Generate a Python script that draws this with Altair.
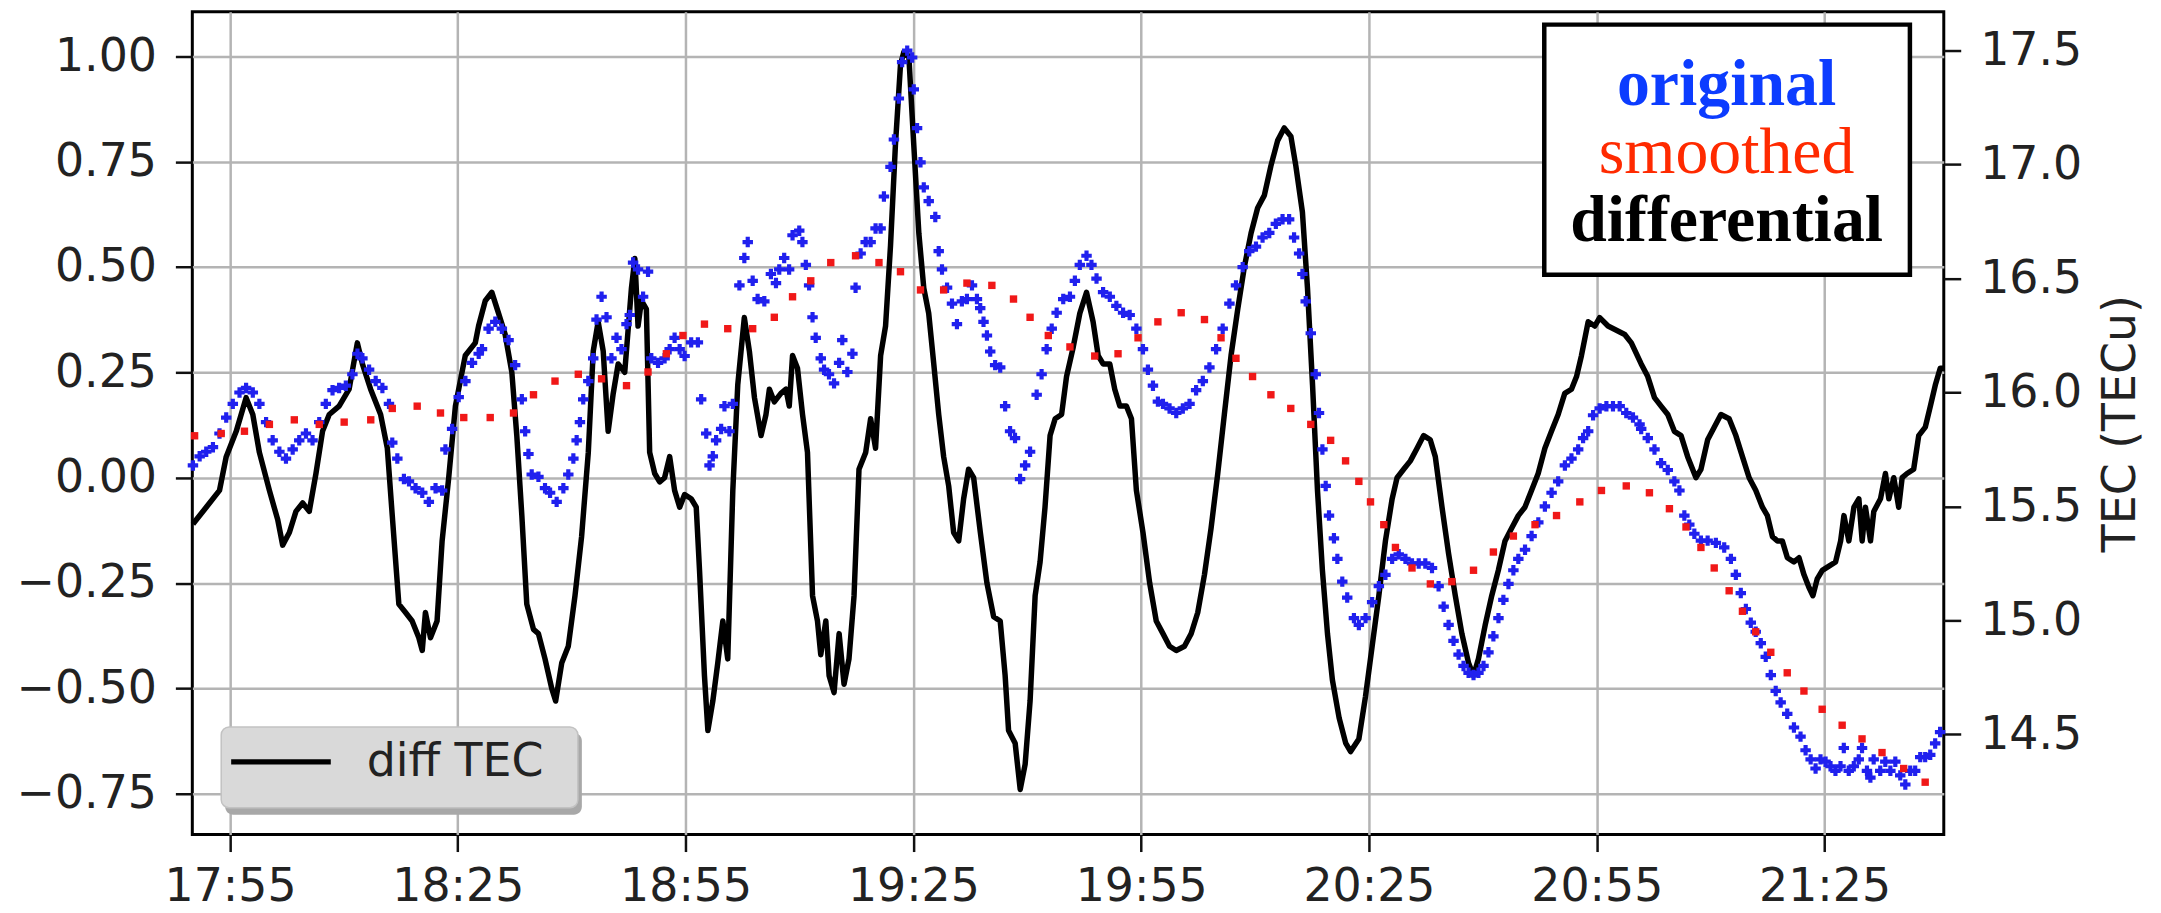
import altair as alt
import pandas as pd

# ---- data (minutes after 17:50) ----
diff_min = [0.12, 1.87, 3.62, 4.50, 5.81, 7.12, 8.00, 8.87, 10.19, 11.28, 11.93, 12.81, 13.68, 14.56,
            15.43, 16.31, 17.18, 18.06, 19.37, 20.68, 21.77, 22.43, 23.52, 24.84, 25.71, 26.37, 27.24,
            28.12, 28.99, 29.87, 30.31, 30.74, 31.40, 32.27, 32.93, 33.80, 34.68, 35.99, 37.30, 37.74,
            38.62, 39.49, 40.36, 41.24, 42.11, 42.77, 43.43, 44.08, 44.96, 45.62, 46.49, 47.37, 47.89,
            48.68, 49.55, 50.43, 51.30, 52.18, 52.83, 53.49, 54.15, 54.80, 55.46, 56.12, 56.99, 57.87,
            58.31, 58.74, 59.18, 59.83, 60.27, 60.93, 61.58, 62.24, 62.90, 63.55, 64.21, 64.87, 65.74,
            66.40, 66.83, 67.49, 67.93, 68.58, 69.24, 69.90, 70.55, 71.21, 71.87, 72.74, 73.40, 74.06,
            74.93, 75.59, 76.03, 76.68, 77.55, 78.21, 78.65, 79.08, 79.74, 80.40, 81.05, 81.71, 82.36,
            82.80, 83.46, 83.90, 84.55, 85.21, 85.87, 86.52, 87.18, 87.83, 88.71, 89.37, 90.02, 90.68,
            91.33, 91.99, 92.64, 93.30, 93.74, 94.40, 95.05, 95.71, 96.37, 97.02, 97.68, 98.34, 98.99,
            99.65, 100.30, 100.96, 101.62, 102.27, 102.93, 103.81, 104.68, 105.56, 106.43, 107.09,
            107.53, 108.40, 109.06, 109.72, 110.37, 111.03, 111.69, 112.34, 113.00, 113.66, 114.51,
            115.17, 116.05, 116.92, 117.80, 118.67, 119.33, 119.98, 120.86, 121.52, 122.18, 123.05,
            123.71, 124.36, 125.24, 126.11, 126.98, 127.86, 128.73, 129.61, 130.70, 131.58, 132.45,
            133.33, 134.20, 135.08, 135.95, 136.83, 137.71, 138.58, 139.46, 140.33, 141.21, 142.08,
            142.96, 143.84, 144.71, 145.37, 146.24, 146.90, 147.56, 148.22, 148.87, 149.53, 150.19,
            151.06, 151.94, 152.59, 153.67, 154.54, 155.42, 156.30, 157.17, 158.05, 158.70, 159.57,
            160.45, 161.33, 162.20, 163.07, 163.73, 164.61, 165.48, 166.36, 167.23, 168.11, 168.76,
            169.42, 170.30, 171.17, 172.04, 172.92, 173.79, 174.67, 175.54, 176.42, 177.29, 178.17,
            179.04, 179.92, 180.79, 181.67, 182.33, 182.98, 183.86, 184.73, 185.39, 186.49, 187.58,
            188.68, 189.55, 190.85, 191.72, 192.60, 193.47, 194.35, 195.22, 196.10, 196.97, 198.07,
            198.72, 199.60, 200.47, 201.35, 202.44, 203.31, 204.19, 205.07, 205.94, 206.82, 207.47,
            208.13, 208.79, 209.44, 210.10, 210.97, 211.63, 212.29, 212.94, 213.47, 214.04, 214.70,
            215.58, 216.45, 217.11, 217.55, 218.20, 218.86, 219.52, 219.95, 220.39, 221.05, 221.49,
            222.36, 223.02, 223.46, 224.11, 224.77, 225.21, 225.87, 226.74, 227.40, 228.27, 228.93,
            229.59, 230.24, 230.70]
diff_tec = [-0.11, -0.07, -0.03, 0.05, 0.11, 0.19, 0.15, 0.06, -0.03, -0.10, -0.16, -0.13, -0.08, -0.06,
            -0.08, 0.01, 0.11, 0.15, 0.17, 0.21, 0.32, 0.27, 0.21, 0.15, 0.07, -0.09, -0.30,
            -0.32, -0.34, -0.38, -0.41, -0.32, -0.38, -0.34, -0.15, 0.00, 0.17, 0.29, 0.32, 0.36,
            0.42, 0.44, 0.39, 0.34, 0.25, 0.10, -0.09, -0.30, -0.36, -0.37, -0.43, -0.50, -0.53,
            -0.44, -0.40, -0.28, -0.14, 0.06, 0.30, 0.37, 0.30, 0.11, 0.20, 0.27, 0.25, 0.45,
            0.52, 0.36, 0.42, 0.40, 0.06, 0.01, -0.01, 0.00, 0.05, -0.03, -0.07, -0.04, -0.05,
            -0.07, -0.22, -0.47, -0.60, -0.53, -0.44, -0.34, -0.43, -0.03, 0.22, 0.38, 0.30, 0.19,
            0.10, 0.15, 0.21, 0.18, 0.20, 0.21, 0.17, 0.29, 0.26, 0.15, 0.06, -0.28, -0.34,
            -0.42, -0.34, -0.47, -0.51, -0.37, -0.49, -0.43, -0.28, 0.02, 0.06, 0.14, 0.07, 0.29,
            0.36, 0.55, 0.79, 0.98, 1.01, 1.00, 0.79, 0.58, 0.45, 0.39, 0.27, 0.15, 0.05,
            -0.02, -0.13, -0.15, -0.05, 0.02, 0.00, -0.13, -0.25, -0.33, -0.34, -0.47,
            -0.60, -0.63, -0.74, -0.68, -0.53, -0.28, -0.20, -0.07, 0.10, 0.14, 0.15,
            0.24, 0.31, 0.39, 0.44, 0.37, 0.29, 0.27, 0.27, 0.21, 0.17, 0.17,
            0.14, -0.03, -0.13, -0.25, -0.34, -0.37, -0.40, -0.41, -0.40, -0.37, -0.32,
            -0.23, -0.12, 0.01, 0.15, 0.29, 0.40, 0.50, 0.58, 0.64, 0.67, 0.74,
            0.80, 0.83, 0.81, 0.74, 0.63, 0.45, 0.22, -0.03, -0.22, -0.37, -0.48,
            -0.57, -0.63, -0.65, -0.62, -0.52, -0.40, -0.28, -0.15, -0.05, 0.00, 0.02,
            0.04, 0.07, 0.10, 0.09, 0.05, -0.07, -0.18, -0.28, -0.37, -0.44, -0.47,
            -0.43, -0.35, -0.28, -0.22, -0.15, -0.12, -0.09, -0.07, -0.03, 0.01, 0.07,
            0.11, 0.15, 0.20, 0.21, 0.24, 0.29, 0.37, 0.36, 0.38, 0.36, 0.35,
            0.34, 0.32, 0.27, 0.24, 0.19, 0.17, 0.15, 0.11, 0.10, 0.05, 0.00,
            0.02, 0.09, 0.12, 0.15, 0.14, 0.10, 0.05, 0.00, -0.03, -0.07, -0.09,
            -0.14, -0.15, -0.15, -0.19, -0.20, -0.19, -0.23, -0.26, -0.28, -0.24, -0.22,
            -0.21, -0.20, -0.15, -0.09, -0.15, -0.07, -0.05, -0.15, -0.07, -0.15, -0.08,
            -0.05, 0.01, -0.05, 0.00, -0.07, 0.00, 0.01, 0.02, 0.10, 0.12, 0.17,
            0.22, 0.26, 0.26]

orig_min = [0.12, 1.00, 1.87, 2.75, 3.62, 4.50, 5.37, 6.25, 7.12, 8.00, 8.87, 9.75, 10.62, 11.50, 12.37,
            13.25, 14.12, 15.00, 15.87, 16.75, 17.62, 18.50, 19.37, 20.25, 21.12, 21.78, 22.44, 23.31,
            24.19, 25.06, 25.94, 26.37, 27.03, 27.90, 28.56, 29.43, 30.31, 31.19, 32.06, 32.94, 33.37,
            34.25, 35.12, 36.00, 36.87, 37.75, 38.18, 39.05, 39.93, 40.80, 41.68, 42.55, 43.43, 43.87,
            44.30, 44.74, 45.62, 46.49, 47.15, 48.02, 48.90, 49.55, 50.21, 50.65, 51.08, 51.52, 52.18,
            52.83, 53.27, 53.93, 54.58, 55.24, 55.90, 56.55, 57.21, 57.65, 58.08, 58.74, 59.40, 60.05,
            60.49, 61.37, 62.24, 62.90, 63.55, 64.21, 64.87, 65.74, 66.62, 67.05, 67.71, 68.15, 68.58,
            69.02, 69.68, 70.12, 70.77, 71.21, 72.08, 72.74, 73.18, 73.83, 74.49, 75.37, 76.24, 76.90,
            77.33, 77.99, 78.64, 79.08, 79.96, 80.39, 80.83, 81.27, 81.71, 82.14, 82.80, 83.24, 83.89,
            84.55, 85.21, 85.64, 86.30, 86.96, 87.39, 88.05, 88.71, 89.36, 90.02, 90.68, 91.11, 91.99,
            92.43, 93.08, 93.52, 94.18, 94.83, 95.05, 95.49, 95.93, 96.36, 97.02, 97.89, 98.33, 98.77,
            99.43, 100.08, 100.74, 101.39, 102.05, 102.71, 103.36, 103.80, 104.24, 104.68, 105.11,
            105.77, 106.43, 107.08, 107.74, 108.39, 109.05, 109.71, 110.36, 111.24, 111.89, 112.55,
            113.21, 113.86, 114.74, 115.61, 116.27, 116.92, 117.80, 118.45, 119.11, 119.99, 120.86,
            121.74, 122.61, 123.49, 124.36, 125.24, 125.89, 126.55, 127.20, 127.86, 128.74, 129.61,
            130.49, 131.36, 132.24, 133.11, 133.99, 134.86, 135.74, 136.61, 137.49, 138.36, 139.24,
            140.11, 140.99, 141.86, 142.74, 143.61, 144.49, 145.14, 145.80, 146.24, 146.67, 147.33,
            147.99, 148.42, 148.86, 149.30, 149.74, 150.39, 150.83, 151.48, 152.14, 153.01, 153.67,
            154.55, 155.42, 156.30, 157.17, 158.05, 158.92, 159.80, 160.67, 161.55, 162.42, 163.30,
            164.17, 164.83, 165.48, 166.14, 166.80, 167.45, 168.11, 168.76, 169.42, 170.08, 170.73,
            171.39, 172.05, 172.70, 173.36, 174.01, 174.67, 175.55, 176.42, 177.30, 178.17, 179.05,
            179.92, 180.80, 181.67, 182.55, 183.20, 183.86, 184.51, 185.39, 186.26, 187.14, 188.01,
            188.89, 189.76, 190.64, 190.85, 191.72, 192.60, 193.47, 194.35, 195.22, 195.88, 196.53,
            197.19, 197.85, 198.72, 199.60, 200.69, 201.78, 202.66, 203.31, 203.97, 204.63, 205.28,
            205.94, 206.60, 207.25, 207.91, 208.56, 209.22, 210.09, 210.97, 211.84, 212.50, 213.16,
            213.81, 214.47, 215.13, 215.78, 216.44, 217.10, 217.53, 218.19, 218.85, 219.50, 219.94,
            220.59, 221.03, 221.47, 222.34, 223.00, 223.66, 224.31, 224.97, 225.63, 226.28, 226.94,
            227.60, 228.25, 228.91, 229.56, 230.22]
orig_tec = [15.68, 15.72, 15.74, 15.76, 15.82, 15.89, 15.95, 16.00, 16.02, 16.00, 15.95, 15.87, 15.79, 15.74, 15.71,
            15.75, 15.79, 15.82, 15.79, 15.87, 15.95, 16.01, 16.02, 16.03, 16.08, 16.17, 16.15, 16.10,
            16.05, 16.02, 15.95, 15.78, 15.71, 15.62, 15.61, 15.58, 15.56, 15.52, 15.58, 15.57, 15.75,
            15.84, 15.98, 16.05, 16.13, 16.17, 16.19, 16.28, 16.31, 16.28, 16.23, 16.12, 15.97, 15.83,
            15.73, 15.64, 15.63, 15.58, 15.56, 15.52, 15.58, 15.64, 15.71, 15.79, 15.87, 15.97, 16.05,
            16.15, 16.32, 16.42, 16.33, 16.15, 16.24, 16.19, 16.30, 16.34, 16.57, 16.54, 16.42, 16.53,
            16.15, 16.13, 16.15, 16.19, 16.24, 16.19, 16.16, 16.22, 16.22, 15.97, 15.82, 15.68, 15.72,
            15.79, 15.84, 15.94, 15.83, 15.95, 16.47, 16.59, 16.66, 16.49, 16.41, 16.40, 16.52, 16.48,
            16.54, 16.59, 16.54, 16.69, 16.71, 16.66, 16.56, 16.47, 16.33, 16.24, 16.15, 16.10, 16.08,
            16.04, 16.13, 16.23, 16.09, 16.17, 16.46, 16.61, 16.66, 16.66, 16.72, 16.72, 16.86, 16.99,
            17.11, 17.29, 17.45, 17.50, 17.47, 17.33, 17.16, 17.01, 16.90, 16.84, 16.77, 16.62, 16.54,
            16.46, 16.39, 16.30, 16.40, 16.41, 16.47, 16.41, 16.37, 16.31, 16.25, 16.18,
            16.12, 16.11, 15.94, 15.83, 15.80, 15.62, 15.68, 15.74, 15.99, 16.08, 16.19,
            16.28, 16.35, 16.41, 16.42, 16.49, 16.56, 16.60, 16.56, 16.50, 16.44, 16.42,
            16.38, 16.35, 16.34, 16.28, 16.19, 16.10, 16.03, 15.96, 15.95, 15.93, 15.91,
            15.93, 15.95, 16.01, 16.05, 16.11, 16.19, 16.28, 16.39, 16.47, 16.55, 16.62,
            16.64, 16.68, 16.70, 16.74, 16.76, 16.76, 16.68, 16.61, 16.52, 16.40, 16.26,
            16.08, 15.91, 15.75, 15.59, 15.46, 15.36, 15.27, 15.17, 15.10, 15.01, 14.98,
            15.01, 15.08, 15.15, 15.20, 15.27, 15.29, 15.27, 15.25, 15.25, 15.25, 15.23,
            15.15, 15.06, 14.98, 14.91, 14.85, 14.80, 14.77, 14.76, 14.77, 14.80, 14.86,
            14.93, 15.01, 15.09, 15.16, 15.22, 15.27, 15.31, 15.37, 15.43, 15.50, 15.56,
            15.61, 15.68, 15.71, 15.75, 15.80, 15.83, 15.90, 15.93, 15.94, 15.94, 15.94,
            15.91, 15.89, 15.86, 15.84, 15.80, 15.75, 15.69, 15.66, 15.61, 15.57, 15.46,
            15.42, 15.38, 15.35, 15.35, 15.34, 15.32, 15.27, 15.20, 15.12, 15.05, 14.99,
            14.95, 14.90, 14.84, 14.76, 14.69, 14.64, 14.59, 14.53, 14.49, 14.43, 14.39,
            14.35, 14.39, 14.38, 14.36, 14.34, 14.36, 14.44, 14.34, 14.36, 14.39, 14.44,
            14.34, 14.31, 14.39, 14.34, 14.38, 14.34, 14.38, 14.32, 14.28, 14.34, 14.34,
            14.40, 14.40, 14.41, 14.46, 14.51]

smooth_min = [0.34, 3.84, 6.90, 10.19, 13.47, 16.75, 20.03, 23.53, 26.37, 29.65, 32.72, 35.78, 39.27,
              42.33, 44.96, 47.80, 50.87, 53.93, 57.21, 60.05, 62.46, 64.65, 67.49, 70.55, 73.83, 76.68,
              79.08, 81.49, 84.11, 87.39, 90.46, 93.30, 95.93, 98.99, 102.05, 105.33, 108.18, 110.36,
              112.77, 115.61, 118.89, 121.95, 124.58, 127.20, 130.27, 133.33, 135.52, 137.49, 139.67,
              142.08, 144.70, 147.33, 149.95, 151.92, 153.67, 155.20, 156.95, 158.48, 160.67, 163.08,
              165.92, 168.76, 171.39, 174.01, 176.86, 179.70, 182.76, 185.61, 188.89, 191.94, 194.56,
              196.75, 198.72, 200.47, 202.44, 204.19, 205.94, 207.91, 210.09, 212.28, 214.69, 217.31,
              219.94, 222.56, 225.41, 228.25]
smooth_tec = [15.81, 15.82, 15.83, 15.86, 15.88, 15.86, 15.87, 15.88, 15.93, 15.94, 15.91, 15.89, 15.89,
              15.91, 15.99, 16.05, 16.08, 16.06, 16.03, 16.09, 16.17, 16.25, 16.30, 16.28, 16.28, 16.33,
              16.42, 16.49, 16.57, 16.60, 16.57, 16.53, 16.45, 16.45, 16.48, 16.47, 16.41, 16.33,
              16.25, 16.20, 16.16, 16.17, 16.24, 16.31, 16.35, 16.32, 16.24, 16.15, 16.07,
              15.99, 15.93, 15.86, 15.79, 15.70, 15.61, 15.52, 15.42, 15.32, 15.23, 15.16,
              15.17, 15.22, 15.30, 15.37, 15.42, 15.46, 15.52, 15.57, 15.59, 15.56, 15.49,
              15.41, 15.32, 15.23, 15.13, 15.04, 14.95, 14.86, 14.77, 14.69, 14.61, 14.54,
              14.48, 14.42, 14.35, 14.29]

x_tick_labels = ["17:55", "18:25", "18:55", "19:25", "19:55", "20:25", "20:55", "21:25"]
left_ticks = [-0.75, -0.5, -0.25, 0.0, 0.25, 0.5, 0.75, 1.0]
right_ticks = [14.5, 15.0, 15.5, 16.0, 16.5, 17.0, 17.5]
legend_words = ["original", "smoothed", "differential"]
legend_colors = ["#0c3cff", "#ff2a00", "#000000"]
line_legend_label = "diff TEC"
right_title = "TEC (TECu)"

# ---- build tables ----
BASE = pd.Timestamp("2020-01-01 17:50:00")


def stamps(mins):
    return [(BASE + pd.Timedelta(seconds=round(m * 60))).strftime("%Y-%m-%dT%H:%M:%S") for m in mins]


diff_df = pd.DataFrame({"time": stamps(diff_min), "dtec": diff_tec})
orig_df = pd.DataFrame({"time": stamps(orig_min), "tec": orig_tec})
smooth_df = pd.DataFrame({"time": stamps(smooth_min), "tec": smooth_tec})
one = pd.DataFrame({"k": [0]})


def dt(h, m, s=0):
    return alt.DateTime(year=2020, month=1, date=1, hours=h, minutes=m, seconds=s)


W, H = 1758, 826
FONT = "DejaVu Sans"

x_enc = alt.X(
    "time:T",
    scale=alt.Scale(domain=[dt(17, 50, 2), dt(21, 40, 42)], nice=False),
    axis=alt.Axis(
        values=[dt(int(s[:2]), int(s[3:])) for s in x_tick_labels],
        format="%H:%M", title=None, grid=True, labelPadding=13,
        labelFlush=False, labelOverlap=False,
    ),
)

line = alt.Chart(diff_df).mark_line(color="black", strokeWidth=5.5, strokeJoin="round").encode(
    x=x_enc,
    y=alt.Y("dtec:Q",
            scale=alt.Scale(domain=[-0.847, 1.106], nice=False, zero=False),
            axis=alt.Axis(orient="left", values=left_ticks, format=".2f", title=None,
                          grid=True, labelPadding=19, labelOverlap=False, labelFlush=False)),
)

y_right = alt.Y(
    "tec:Q",
    scale=alt.Scale(domain=[14.06, 17.671], nice=False, zero=False),
    axis=alt.Axis(orient="right", values=right_ticks, format=".1f", title=right_title,
                  grid=False, labelPadding=19, labelOverlap=False, labelFlush=False,
                  titleAngle=270, titleX=177, titleY=H / 2, titleAlign="center",
                  titleBaseline="middle"),
)

blue = alt.Chart(orig_df).mark_point(shape="cross", filled=True, size=110, color="#2020ee",
                                     opacity=1).encode(x=x_enc, y=y_right)
red = alt.Chart(smooth_df).mark_point(shape="square", filled=True, size=55, color="#f01818",
                                      opacity=1).encode(x=x_enc, y=y_right)
points = alt.layer(blue, red)


def rect(x, x2, y, y2, **kw):
    return alt.Chart(one).mark_rect(**kw).encode(
        x=alt.value(x), x2=alt.value(x2), y=alt.value(y), y2=alt.value(y2))


def text(s, x, y, **kw):
    return alt.Chart(one).mark_text(**kw).encode(x=alt.value(x), y=alt.value(y), text=alt.value(s))


# "diff TEC" legend (matplotlib style with shadow)
leg_shadow = rect(33, 391, 724, 806, fill="#a8a8a8", cornerRadius=8)
leg_box = rect(29, 387, 718, 799, fill="#d9d9d9", stroke="#c2c2c2", strokeWidth=1.5, cornerRadius=8)
leg_line = alt.Chart(one).mark_rule(color="black", strokeWidth=5.5).encode(
    x=alt.value(39), x2=alt.value(139), y=alt.value(753))
leg_text = text(line_legend_label, 175, 767, font=FONT, fontSize=46, color="#222222",
                align="left", baseline="alphabetic")

# annotation box top right
ann_box = rect(1357, 1724, 13, 264, fill="white", stroke="black", strokeWidth=4.5)
ann_texts = [
    text(legend_words[0], 1540, 94, font="Liberation Serif", fontSize=66, fontWeight="bold",
         color=legend_colors[0], align="center", baseline="alphabetic"),
    text(legend_words[1], 1540, 162, font="Liberation Serif", fontSize=66, fontWeight="normal",
         color=legend_colors[1], align="center", baseline="alphabetic"),
    text(legend_words[2], 1540, 230, font="Liberation Serif", fontSize=66, fontWeight="bold",
         color=legend_colors[2], align="center", baseline="alphabetic"),
]

top_line = alt.Chart(one).mark_rule(color="#cfcfcf", strokeWidth=2).encode(
    x=alt.value(-190), x2=alt.value(W + 215), y=alt.value(-5))

chart = alt.layer(
    line, points, leg_shadow, leg_box, leg_line, leg_text, ann_box, *ann_texts, top_line
).resolve_scale(y="independent").properties(
    width=W, height=H,
    autosize=alt.AutoSizeParams(type="none"),
    padding={"left": 185, "top": 2, "right": 210, "bottom": 77},
    background="white",
).configure_view(
    stroke="black", strokeWidth=3
).configure_axis(
    labelFont=FONT, labelFontSize=46, labelColor="#222222",
    tickColor="#111111", tickWidth=2.5, tickSize=17, domain=False,
    gridColor="#b4b4b4", gridWidth=2.5,
    titleFont=FONT, titleFontSize=46, titleFontWeight="normal", titleColor="#222222",
)

chart.save("out.html", embed_options={"renderer": "svg", "actions": False})
